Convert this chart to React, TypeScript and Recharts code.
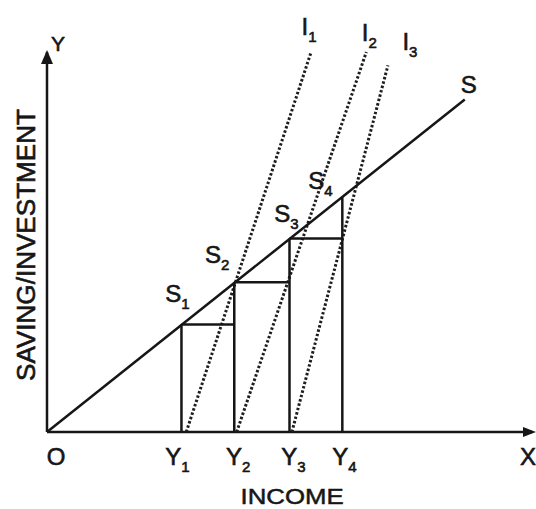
import { ComposedChart, Line, Scatter, XAxis, YAxis } from "recharts";

// income levels Y1..Y4 and the saving reached at each
const INCOME_LEVELS = [28, 39, 50.5, 61.5];
const SAVING_LEVELS = [28.3, 39.4, 50.9, 61.8];
const INCOME_SUBS = ["1", "2", "3", "4"];

// saving line S
const SAVING_LINE = [
  { x: 0, y: 0 },
  { x: 87, y: 87.5 },
];

// investment lines I1..I3 (start on the axis, end at the top)
const INVEST_START_X = [29, 39.5, 51];
const INVEST_END_X = [55, 66.5, 71];
const INVEST_END_Y = [100, 100, 96.5];
const INVEST_SUBS = ["1", "2", "3"];

const X_END = 101;
const Y_END = 100;

const INK = "#161616";
const FONT = "'Liberation Sans', Arial, Helvetica, sans-serif";

const investLines = INVEST_START_X.map((x0, i) => [
  { x: x0, y: 0 },
  { x: INVEST_END_X[i], y: INVEST_END_Y[i] },
]);

const risers = INCOME_LEVELS.map((x, i) => [
  { x, y: 0 },
  { x, y: SAVING_LEVELS[i] },
]);

const steps = INCOME_LEVELS.slice(0, -1).map((x, i) => [
  { x, y: SAVING_LEVELS[i] },
  { x: INCOME_LEVELS[i + 1], y: SAVING_LEVELS[i] },
]);

type LabelProps = {
  cx?: number;
  cy?: number;
  main: string;
  sub?: string;
  dx: number;
  dy: number;
  size?: number;
};

function SubLabel({ cx = 0, cy = 0, main, sub, dx, dy, size = 24 }: LabelProps) {
  return (
    <text
      x={cx + dx}
      y={cy + dy + size * 0.36}
      textAnchor="middle"
      fontFamily={FONT}
      fontSize={size}
      fill={INK}
      stroke={INK}
      strokeWidth={0.6}
    >
      {main}
      {sub && (
        <tspan fontSize={15} dy={7}>
          {sub}
        </tspan>
      )}
    </text>
  );
}

function at(x: number, y: number, props: Omit<LabelProps, "cx" | "cy">, key: string) {
  return (
    <Scatter
      key={key}
      data={[{ x, y }]}
      isAnimationActive={false}
      shape={(p: any) => <SubLabel cx={p.cx} cy={p.cy} {...props} />}
    />
  );
}

function seg(data: { x: number; y: number }[], key: string, dotted = false) {
  return (
    <Line
      key={key}
      data={data}
      dataKey="y"
      type="linear"
      dot={false}
      activeDot={false}
      stroke={dotted ? "#1e1e1e" : INK}
      strokeWidth={dotted ? 3 : 2.5}
      strokeDasharray={dotted ? "2.5 2" : undefined}
      isAnimationActive={false}
    />
  );
}

const incomeDx = [-4, 4, 4, 2];
const savingOffsets = [
  { dx: -4, dy: -31 },
  { dx: -17, dy: -28 },
  { dx: -3, dy: -25 },
  { dx: -22, dy: -17 },
];
const investOffsets = [
  { dx: -2, dy: -26 },
  { dx: 3, dy: -20 },
  { dx: 22, dy: -24 },
];

export default function App() {
  return (
    <div style={{ position: "absolute", left: 0, top: 0, width: 536, height: 509, background: "#fff" }}>
      <ComposedChart
        width={536}
        height={509}
        margin={{ top: 52, right: 4, bottom: 77, left: 47 }}
      >
        <XAxis dataKey="x" type="number" domain={[0, X_END]} hide />
        <YAxis dataKey="y" type="number" domain={[0, Y_END]} hide />

        {/* axes */}
        {seg([{ x: 0, y: 0 }, { x: X_END, y: 0 }], "xaxis")}
        {seg([{ x: 0, y: 0 }, { x: 0, y: Y_END }], "yaxis")}
        <Scatter
          data={[{ x: X_END, y: 0 }]}
          isAnimationActive={false}
          shape={(p: any) => (
            <path d={`M${p.cx + 4},${p.cy} L${p.cx - 9},${p.cy - 5} L${p.cx - 9},${p.cy + 5} Z`} fill={INK} />
          )}
        />
        <Scatter
          data={[{ x: 0, y: Y_END }]}
          isAnimationActive={false}
          shape={(p: any) => (
            <path d={`M${p.cx},${p.cy - 2} L${p.cx - 6},${p.cy + 12} L${p.cx + 6},${p.cy + 12} Z`} fill={INK} />
          )}
        />

        {investLines.map((d, i) => seg(d, `inv-${i}`, true))}
        {seg(SAVING_LINE, "saving")}
        {risers.map((d, i) => seg(d, `riser-${i}`))}
        {steps.map((d, i) => seg(d, `step-${i}`))}

        {/* labels */}
        {at(0, Y_END, { main: "Y", dx: 11, dy: -9, size: 21 }, "lab-y")}
        {at(0, 0, { main: "O", dx: 9, dy: 24 }, "lab-o")}
        {at(X_END, 0, { main: "X", dx: -4, dy: 24 }, "lab-x")}
        {INCOME_LEVELS.map((x, i) =>
          at(x, 0, { main: "Y", sub: INCOME_SUBS[i], dx: incomeDx[i], dy: 24 }, `lab-inc-${i}`)
        )}
        {INCOME_LEVELS.map((x, i) =>
          at(x, SAVING_LEVELS[i], { main: "S", sub: INCOME_SUBS[i], ...savingOffsets[i] }, `lab-sav-${i}`)
        )}
        {INVEST_END_X.map((x, i) =>
          at(x, INVEST_END_Y[i], { main: "I", sub: INVEST_SUBS[i], ...investOffsets[i] }, `lab-inv-${i}`)
        )}
        {at(SAVING_LINE[1].x, SAVING_LINE[1].y, { main: "S", dx: 4, dy: -15 }, "lab-s")}
        <Scatter
          data={[{ x: 50, y: 0 }]}
          isAnimationActive={false}
          shape={(p: any) => (
            <text
              x={p.cx + 5}
              y={p.cy + 64 + 8}
              textAnchor="middle"
              fontFamily={FONT}
              fontSize={22}
              textLength={103}
              lengthAdjust="spacingAndGlyphs"
              fill={INK}
              stroke={INK}
              strokeWidth={0.5}
            >
              INCOME
            </text>
          )}
        />
        <Scatter
          data={[{ x: 0, y: 50 }]}
          isAnimationActive={false}
          shape={(p: any) => (
            <text
              transform={`translate(${p.cx - 21 + 9},${p.cy + 3}) rotate(-90)`}
              textAnchor="middle"
              fontFamily={FONT}
              fontSize={26}
              textLength={272}
              lengthAdjust="spacingAndGlyphs"
              fill={INK}
              stroke={INK}
              strokeWidth={0.6}
            >
              SAVING/INVESTMENT
            </text>
          )}
        />
      </ComposedChart>
    </div>
  );
}
